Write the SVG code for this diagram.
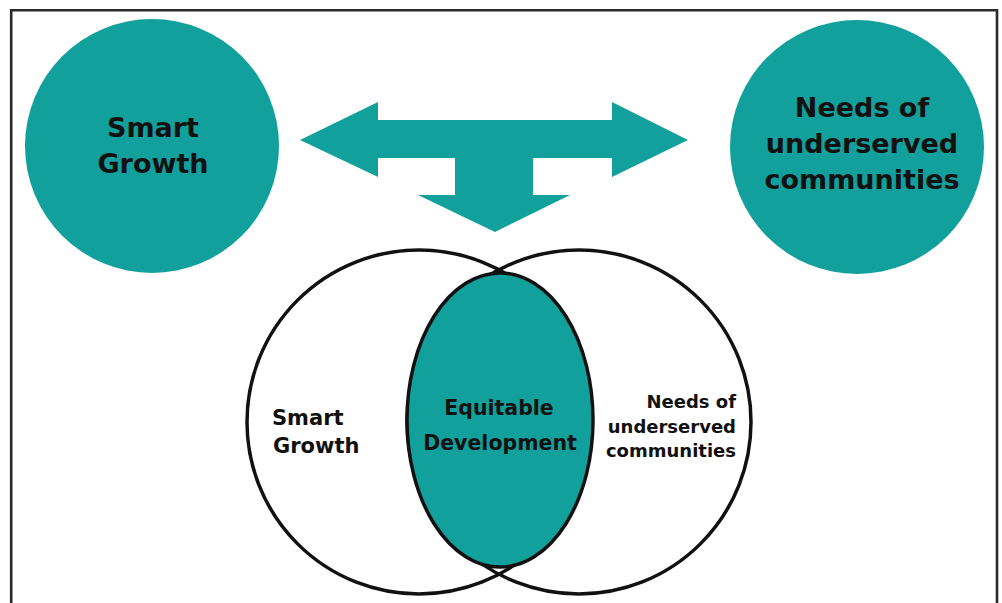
<svg xmlns="http://www.w3.org/2000/svg" width="1002" height="603" viewBox="0 0 1002 603">
  <style>
    .teal { fill: #12a09c; }
    .lbl { font-family: "DejaVu Sans", Verdana, sans-serif; font-weight: bold; fill: #111; }
    .ring { fill: none; stroke: #111; stroke-width: 3.5; }
  </style>
  <rect x="0" y="0" width="1002" height="603" fill="#ffffff"/>
  <path d="M11.2,610 V10.2 H997 V610" fill="none" stroke="#2a2a2a" stroke-width="2.6"/>

  <g id="smart-growth">
    <circle class="teal" cx="152" cy="146" r="127"/>
    <text class="lbl" font-size="27" text-anchor="middle" x="153" y="137">Smart</text>
    <text class="lbl" font-size="27" text-anchor="middle" x="153" y="173">Growth</text>
  </g>

  <g id="needs">
    <circle class="teal" cx="857" cy="147" r="127"/>
    <text class="lbl" font-size="27" text-anchor="middle" x="862" y="117">Needs of</text>
    <text class="lbl" font-size="27" text-anchor="middle" x="862" y="153">underserved</text>
    <text class="lbl" font-size="27" text-anchor="middle" x="862" y="189">communities</text>
  </g>

  <g id="connectors">
    <path class="teal" d="M300,140 L378,102 L378,120 L612,120 L612,102 L688,140 L612,177 L612,158 L533,158 L533,195 L570,195 L495,232 L418,195 L455,195 L455,158 L378,158 L378,177 Z"/>
  </g>

  <g id="venn-left">
    <circle class="ring" cx="419" cy="422" r="172"/>
    <text class="lbl" font-size="21" x="272" y="425">Smart</text>
    <text class="lbl" font-size="21" x="273" y="453">Growth</text>
  </g>

  <g id="venn-right">
    <circle class="ring" cx="579" cy="422" r="172"/>
    <text class="lbl" font-size="18" text-anchor="end" x="736" y="408">Needs of</text>
    <text class="lbl" font-size="18" text-anchor="end" x="736" y="433">underserved</text>
    <text class="lbl" font-size="18" text-anchor="end" x="736" y="457">communities</text>
  </g>

  <g id="equitable-development">
    <ellipse class="teal" cx="500" cy="420" rx="93" ry="147" stroke="#111" stroke-width="3.5"/>
    <text class="lbl" font-size="20.5" text-anchor="middle" x="499" y="415">Equitable</text>
    <text class="lbl" font-size="20.5" text-anchor="middle" x="500" y="450">Development</text>
  </g>
</svg>
